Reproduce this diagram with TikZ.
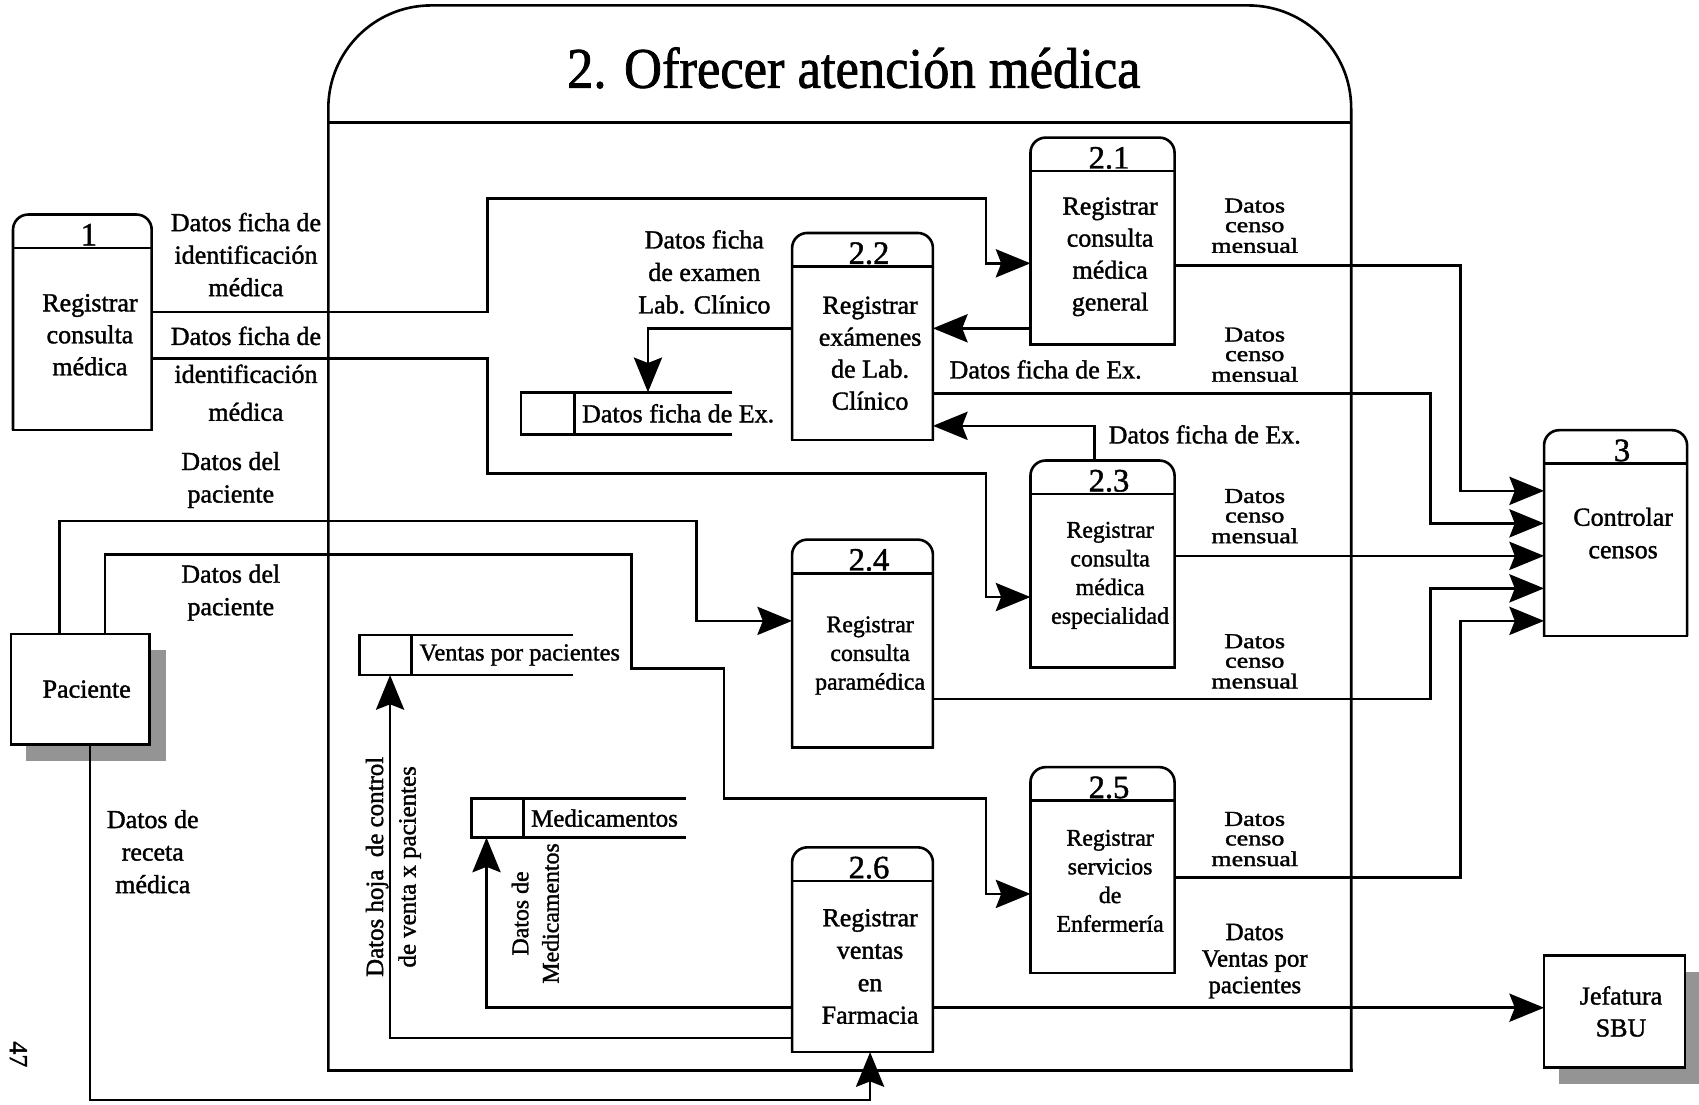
\documentclass[tikz,border=0pt]{standalone}
\usepackage{fontspec}
\setmainfont{Liberation Serif}
\newfontfamily\inkfont{Liberation Serif}[FakeBold=1.4]
\usetikzlibrary{arrows.meta,calc}

% process: name, left, top, right, bottom, number, text y, text style, text
\newcommand\procnode[9]{%
  \node[box, minimum width={(#4)-(#2)}, minimum height={(#5)-(#3)}] (#1) at ({((#2)+(#4))/2},{((#3)+(#5))/2}) {};
  \draw[rounded corners=14pt] (#1.south west) -- (#1.north west) -- (#1.north east) -- (#1.south east);
  \draw[line cap=rect] (#1.south west) -- (#1.south east);
  \draw ($(#1.north west)+(0,31)$) -- ($(#1.north east)+(0,31)$);
  \node[numtxt, anchor=base] (#1-num) at ($(#1.north)+(6,28.5)$) {#6};
  \node[#8] (#1-txt) at ({((#2)+(#4))/2+7},#7) {#9};
}
% external entity with shaded shadow: name, left, top, right, bottom, text
\newcommand\extnode[6]{%
  \fill[shadowfill] ({(#2)+14},{(#3)+15}) rectangle ({(#4)+15},{(#5)+15});
  \node[box, draw, fill=white, minimum width={(#4)-(#2)}, minimum height={(#5)-(#3)}] (#1) at ({((#2)+(#4))/2},{((#3)+(#5))/2}) {};
  \node[txt] (#1-txt) at ($(#1.center)+(6,0)$) {#6};
}
% data store: name, left, divider x, top, right, bottom, font size, text
\newcommand\storenode[8]{%
  \node[box, minimum width={(#5)-(#2)}, minimum height={(#6)-(#4)}] (#1) at ({((#2)+(#5))/2},{((#4)+(#6))/2}) {};
  \draw (#1.north east) -- (#1.north west) -- (#1.south west) -- (#1.south east);
  \draw (#3,#4) -- (#3,#6);
  \node[inner sep=0pt, anchor=west, font=\inkfont\fontsize{#7}{#7}\selectfont] (#1-txt) at ({(#3)+6},{((#4)+(#6))/2}) {#8};
}
% three stacked lines, slightly squashed vertically
\newcommand\squash[1]{\scalebox{1}[0.82]{\inkfont\fontsize{24}{22}\selectfont\begin{tabular}{@{}c@{}}#1\end{tabular}}}

\begin{document}
\begin{tikzpicture}[x=1pt, y=-1pt, line width=2.4pt,
  box/.style={inner sep=0pt, outer sep=0pt},
  dataflow/.style={-{Stealth[length=32pt,width=26pt,inset=5pt]}},
  txt/.style={font=\inkfont\fontsize{24}{29.5}\selectfont, align=center, inner sep=0pt},
  numtxt/.style={font=\inkfont\fontsize{30}{30}\selectfont, inner sep=0pt},
  smalltxt/.style={font=\inkfont\fontsize{22}{26.5}\selectfont, align=center, inner sep=0pt},
  widetxt/.style={font=\inkfont\fontsize{24}{30}\selectfont, align=center, inner sep=0pt},
  shadowfill/.style={fill=black!42},
]
\useasboundingbox[fill=white] (0,0) rectangle (1568,1019);

% enclosing process 2
\node[box, minimum width=944, minimum height=983] (p2) at (775,496.5) {};
\draw[rounded corners=95pt] (p2.south west) -- (p2.north west) -- (p2.north east) -- (p2.south east);
\draw[line cap=rect] (p2.south west) -- (p2.south east);
\draw ($(p2.north west)+(0,108)$) -- ($(p2.north east)+(0,108)$);
\node[inner sep=0pt, anchor=base, font=\inkfont\fontsize{50}{50}\selectfont] (p2-title) at (788,81) {\scalebox{0.97}[1.06]{2. Ofrecer atención médica}};

% processes
\procnode{p1}{12}{198}{140}{397}{1}{309}{txt}{Registrar\\consulta\\médica}
\procnode{p21}{951}{127}{1084}{318}{2.1}{237}{txt}{Registrar\\consulta\\médica\\general}
\procnode{p22}{731}{215}{861}{406}{2.2}{326}{txt}{Registrar\\exámenes\\de Lab.\\Clínico}
\procnode{p23}{951}{425}{1084}{616}{2.3}{531}{smalltxt}{Registrar\\consulta\\médica\\especialidad}
\procnode{p24}{731}{498}{861}{690}{2.4}{605}{smalltxt}{Registrar\\consulta\\paramédica}
\procnode{p25}{951}{708}{1084}{898}{2.5}{813}{smalltxt}{Registrar\\servicios\\de\\Enfermería}
\procnode{p26}{731}{782}{861}{971}{2.6}{892}{widetxt}{Registrar\\ventas\\en\\Farmacia}
\procnode{p3}{1425}{397}{1557}{587}{3}{492}{widetxt}{Controlar\\censos}

% external entities
\extnode{pac}{10}{585}{138}{687}{Paciente}
\extnode{jef}{1425}{882}{1555}{985}{Jefatura\\SBU}

% data stores
\storenode{s1}{481}{530}{362}{676}{401}{24}{Datos ficha de Ex.}
\storenode{s2}{332}{380}{586}{529}{623}{22.5}{Ventas por pacientes}
\storenode{s3}{435}{483}{737}{633}{773}{23}{Medicamentos}

% flows from 1
\draw[dataflow] (p1.east |- 0,288) -- (450,288) -- (450,183) -- (910,183) -- (910,243) -- (p21.west |- 0,243);
\node[widetxt] (f1) at (227,235) {Datos ficha de\\identificación\\médica};
\draw[dataflow] (p1.east |- 0,331) -- (450,331) -- (450,437) -- (910,437) -- (910,551) -- (p23.west |- 0,551);
\node[txt, font=\inkfont\fontsize{24}{35}\selectfont] (f2) at (227,345) {Datos ficha de\\identificación\\médica};

% flows around 2.2
\draw[dataflow] (p21.west |- 0,303) -- (p22.east |- 0,303);
\node[txt] (f3) at (965,341) {Datos ficha de Ex.};
\draw[dataflow] (p22.west |- 0,303) -- (598,303) -- (s1.north -| 598,0);
\node[widetxt] (f4) at (650,251) {Datos ficha\\de examen\\Lab. Clínico};
\draw[dataflow] (p23.north -| 1010,0) -- (1010,393) -- (p22.east |- 0,393);
\node[txt, anchor=west] (f5) at (1022,401) {Datos ficha de Ex.};

% census flows into 3
\draw[dataflow] (p21.east |- 0,245) -- (1348,245) -- (1348,453) -- (p3.west |- 0,453);
\node[inner sep=0pt] (c1) at (1158,211) {\squash{Datos\\censo\\mensual}};
\draw[dataflow] (p22.east |- 0,363) -- (1320,363) -- (1320,483) -- (p3.west |- 0,483);
\node[inner sep=0pt] (c2) at (1158,330) {\squash{Datos\\censo\\mensual}};
\draw[dataflow] (p23.east |- 0,513) -- (p3.west |- 0,513);
\node[inner sep=0pt] (c3) at (1158,479) {\squash{Datos\\censo\\mensual}};
\draw[dataflow] (p24.east |- 0,645) -- (1320,645) -- (1320,543) -- (p3.west |- 0,543);
\node[inner sep=0pt] (c4) at (1158,613) {\squash{Datos\\censo\\mensual}};
\draw[dataflow] (p25.east |- 0,810) -- (1348,810) -- (1348,573) -- (p3.west |- 0,573);
\node[inner sep=0pt] (c5) at (1158,777) {\squash{Datos\\censo\\mensual}};

% flows from the patient
\draw[dataflow] (pac.north -| 55,0) -- (55,481) -- (643,481) -- (643,573) -- (p24.west |- 0,573);
\node[widetxt] (f6) at (213,443) {Datos del\\paciente};
\draw[dataflow] (pac.north -| 97,0) -- (97,512) -- (583,512) -- (583,617) -- (668,617) -- (668,737) -- (910,737) -- (910,825) -- (p25.west |- 0,825);
\node[widetxt] (f7) at (213,547) {Datos del\\paciente};
\draw[dataflow] (pac.south -| 83,0) -- (83,1015) -- (803,1015) -- (p26.south -| 803,0);
\node[widetxt] (f8) at (141,786) {Datos de\\receta\\médica};

% flows from 2.6
\draw[dataflow] (p26.west |- 0,930) -- (449,930) -- (s3.south -| 449,0);
\node[txt, font=\inkfont\fontsize{22}{28}\selectfont, rotate=90] (f9) at (494,843) {Datos de\\Medicamentos};
\draw[dataflow] (p26.west |- 0,958) -- (360,958) -- (s2.south -| 360,0);
\node[txt, font=\inkfont\fontsize{23}{30}\selectfont, rotate=90] (f10) at (363,800) {Datos hoja\ \ de control\\de venta x pacientes};
\draw[dataflow] (p26.east |- 0,930) -- (jef.west |- 0,930);
\node[txt, font=\inkfont\fontsize{23}{24.5}\selectfont] (f11) at (1158,887) {Datos\\Ventas por\\pacientes};

% page number
\node[txt, rotate=-90] (pg) at (17,973) {47};
\end{tikzpicture}
\end{document}
